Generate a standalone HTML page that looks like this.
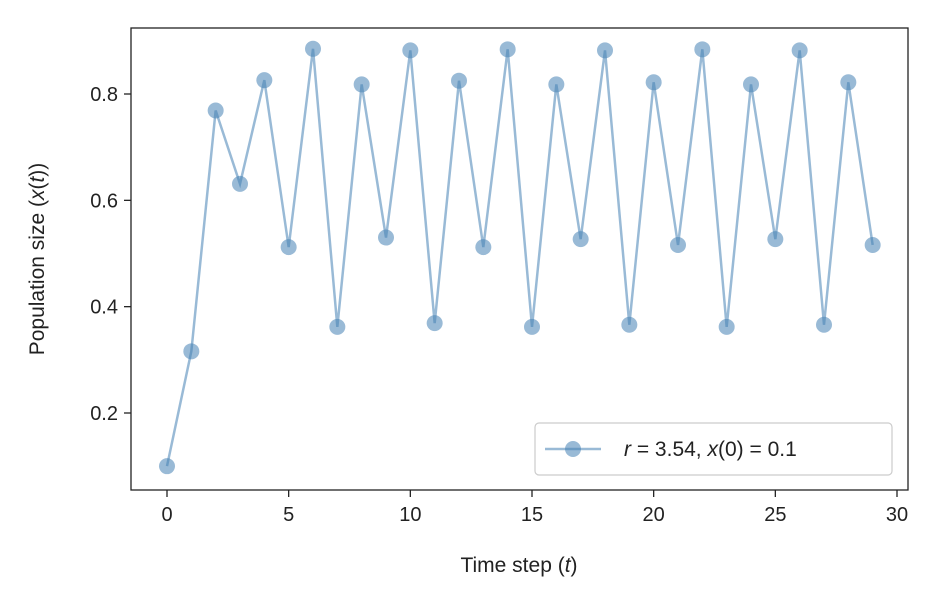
<!DOCTYPE html>
<html><head><meta charset="utf-8"><style>
body{margin:0;background:#fff;}
svg text{font-family:"Liberation Sans","DejaVu Sans",sans-serif;fill:#222;}
</style></head><body>
<svg id="chart" width="944" height="602" viewBox="0 0 944 602">
<rect x="131" y="28" width="777" height="462" fill="none" stroke="#222" stroke-width="1.3"/>
<g id="xticks"></g>
<g id="yticks"></g>
<g id="series"></g>
<text x="519" y="572" font-size="21" text-anchor="middle">Time step (<tspan font-style="italic">t</tspan>)</text>
<text transform="translate(44,259) rotate(-90)" font-size="21" text-anchor="middle">Population size (<tspan font-style="italic">x</tspan>(<tspan font-style="italic">t</tspan>))</text>
<g>
<rect x="535" y="423" width="357" height="52" rx="4" fill="#fff" stroke="#ccc" stroke-width="1.2"/>
<line x1="545" y1="449" x2="601" y2="449" stroke="#4682b4" stroke-opacity="0.55" stroke-width="2.5"/>
<circle cx="573" cy="449" r="8" fill="#4682b4" fill-opacity="0.55"/>
<text x="624" y="456" font-size="21"><tspan font-style="italic">r</tspan> = 3.54, <tspan font-style="italic">x</tspan>(0) = 0.1</text>
</g>
</svg>
<script>
const steps=[0,1,2,3,4,5,6,7,8,9,10,11,12,13,14,15,16,17,18,19,20,21,22,23,24,25,26,27,28,29];
const population=[0.1,0.316,0.769,0.631,0.826,0.512,0.885,0.362,0.818,0.530,0.882,0.369,0.825,0.512,0.884,0.362,0.818,0.527,0.882,0.366,0.822,0.516,0.884,0.362,0.818,0.527,0.882,0.366,0.822,0.516];
const xTickVals=[0,5,10,15,20,25,30];
const yTickVals=[0.2,0.4,0.6,0.8];
const yTickLabels=["0.2","0.4","0.6","0.8"];
const NS="http://www.w3.org/2000/svg";
function xs(v){return 167+v*(897-167)/30;}
function ys(v){return 413-(v-0.2)*(413-94)/0.6;}
function mk(tag,attrs,parent){const e=document.createElementNS(NS,tag);for(const k in attrs)e.setAttribute(k,attrs[k]);parent.appendChild(e);return e;}
const gx=document.getElementById('xticks'),gy=document.getElementById('yticks'),gs=document.getElementById('series');
xTickVals.forEach(v=>{
 const t=mk('line',{x1:xs(v),x2:xs(v),y1:490,y2:497,stroke:'#222','stroke-width':1.3},gx);
 
 
 const l=mk('text',{x:xs(v),y:521,'font-size':20,'text-anchor':'middle'},gx);l.textContent=v;
 
 
});
yTickVals.forEach((v,i)=>{
 const t=mk('line',{x1:124,x2:131,y1:ys(v),y2:ys(v),stroke:'#222','stroke-width':1.3},gy);
 
 
 const l=mk('text',{x:118,y:ys(v)+7,'font-size':20,'text-anchor':'end'},gy);l.textContent=yTickLabels[i];
 
 
});
const pl=mk('polyline',{points:steps.map((s,i)=>xs(s)+','+ys(population[i])).join(' '),fill:'none',stroke:'#4682b4','stroke-opacity':0.55,'stroke-width':2.5},gs);


steps.forEach((s,i)=>{
 const c=mk('circle',{cx:xs(s),cy:ys(population[i]),r:8,fill:'#4682b4','fill-opacity':0.55},gs);
 
 
});
</script>
</body></html>
